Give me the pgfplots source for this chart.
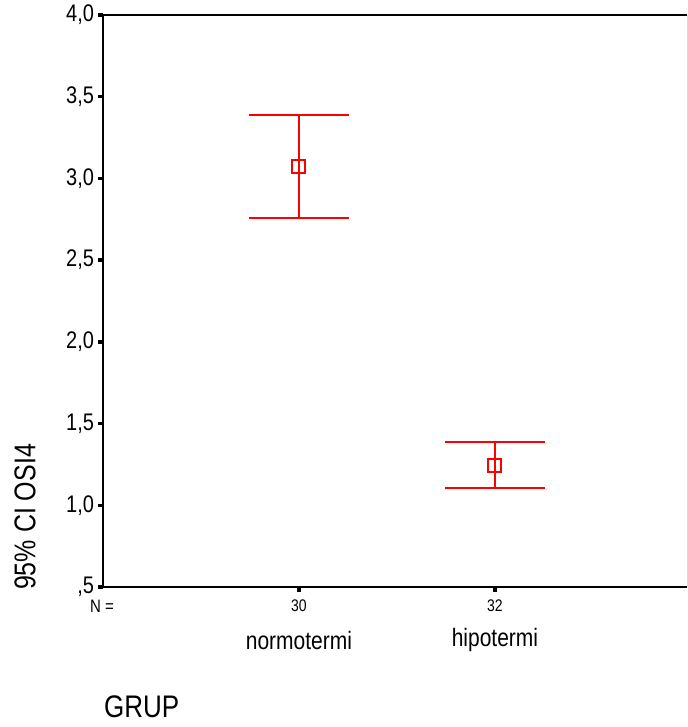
\documentclass[border=0pt]{standalone}
\usepackage{pgfplots}
\pgfplotsset{compat=1.18}
\usepackage{fontspec}
\setmainfont{Liberation Sans}
\newcommand\vs[1]{\scalebox{1}[1.2]{#1}}
\begin{document}
\begin{tikzpicture}
\path[use as bounding box] (0,0) rectangle (688bp,727bp);
\begin{axis}[
  at={(103bp,140bp)}, anchor=south west,
  scale only axis, width=584bp, height=572bp,
  xmin=0, xmax=2.98, ymin=0.5, ymax=4,
  axis x line*=bottom, axis y line*=left,
  axis line style={line width=2.2bp, black},
  tick align=outside,
  major tick length=4.5bp,
  tick style={line width=3.5bp, black},
  ytick={0.5,1,1.5,2,2.5,3,3.5,4},
  yticklabels={{\vs{,5}},{\vs{1,0}},{\vs{1,5}},{\vs{2,0}},{\vs{2,5}},{\vs{3,0}},{\vs{3,5}},{\vs{4,0}}},
  xtick={1,2},
  xticklabels={{\vs{30}},{\vs{32}}},
  /pgf/number format/assume math mode=true,
  yticklabel style={font=\fontsize{20bp}{24bp}\selectfont, xshift=-1bp},
  xticklabel style={font=\fontsize{14bp}{16bp}\selectfont, yshift=-5bp},
  clip=false,
]
\addplot[red, line width=2bp, mark=square, mark size=6.5bp, only marks,
  mark options={line width=2bp},
  error bars/.cd, y dir=both, y explicit,
  error mark=|,
  error bar style={red, line width=2bp},
  error mark options={red, line width=2bp, mark size=50bp}]
  coordinates {(1,3.072) += (0,0.316) -= (0,0.316)
               (2,1.242) += (0,0.147) -= (0,0.134)};
\draw[line width=2.2bp] (rel axis cs:0,1) -- (rel axis cs:1,1);
\draw[black!15, line width=1bp] (rel axis cs:1,0) -- (rel axis cs:1,1);
\node[font=\fontsize{21bp}{24bp}\selectfont] at ([yshift=-53bp]axis cs:1,0.5) {\vs{normotermi}};
\node[font=\fontsize{21bp}{24bp}\selectfont] at ([yshift=-53bp]axis cs:2,0.5) {\vs{hipotermi}};
\end{axis}
\node[font=\fontsize{15bp}{18bp}\selectfont] at (102bp,121bp) {\vs{N =}};
\node[font=\fontsize{26bp}{30bp}\selectfont, anchor=west, inner sep=0pt] at (104bp,20bp) {\vs{GRUP}};
\node[font=\fontsize{25bp}{30bp}\selectfont, rotate=90] at (25bp,210bp) {\vs{95\% CI OSI4}};
\end{tikzpicture}
\end{document}
